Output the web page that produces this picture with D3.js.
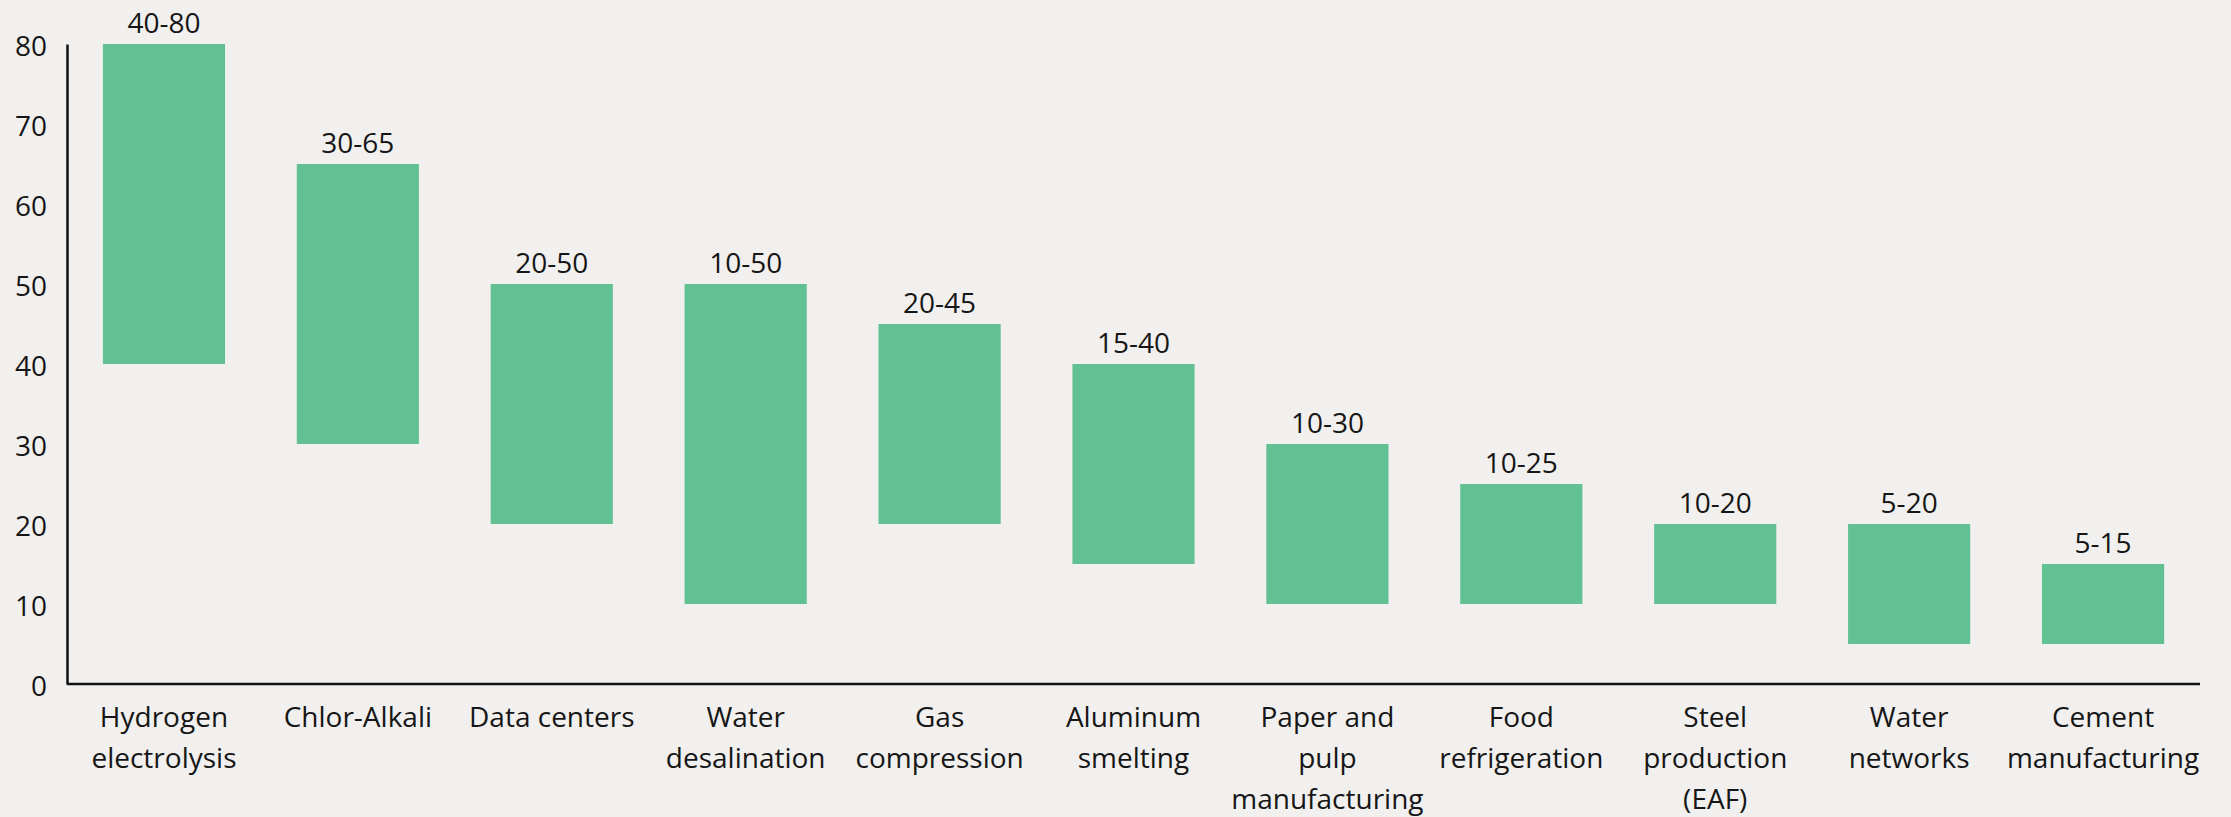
<!DOCTYPE html>
<html>
<head>
<meta charset="utf-8">
<script src="https://cdn.jsdelivr.net/npm/d3@7"></script>
<style>
  html, body { margin: 0; padding: 0; background: #f1f0ee; }
  svg { display: block; }
  text { font-family: "Open Sans", Lato, sans-serif; fill: #161616; }
</style>
</head>
<body>
<svg id="chart" width="2231" height="817"></svg>
<script>
// Range of values for each application (low end to high end)
const categories = [
  "Hydrogen\nelectrolysis",
  "Chlor-Alkali",
  "Data centers",
  "Water\ndesalination",
  "Gas\ncompression",
  "Aluminum\nsmelting",
  "Paper and\npulp\nmanufacturing",
  "Food\nrefrigeration",
  "Steel\nproduction\n(EAF)",
  "Water\nnetworks",
  "Cement\nmanufacturing"
];
const lows  = [40, 30, 20, 10, 20, 15, 10, 10, 10, 5, 5];
const highs = [80, 65, 50, 50, 45, 40, 30, 25, 20, 20, 15];
const yTicks = [0, 10, 20, 30, 40, 50, 60, 70, 80];

const rows = categories.map((c, i) => ({ cat: c, lo: lows[i], hi: highs[i] }));

const FONT = "'Open Sans', Lato, sans-serif";
const svg = d3.select("#chart");
const plotLeft = 67, plotRight = 2200, plotTop = 44, plotBottom = 684;

const x = d3.scaleBand()
  .domain(categories)
  .range([plotLeft, plotRight])
  .paddingInner(0.37)
  .paddingOuter(0.185);

const y = d3.scaleLinear().domain([0, 80]).range([plotBottom, plotTop]);

// Floating range bars
svg.append("g").selectAll("rect")
  .data(rows)
  .join("rect")
  .attr("x", d => x(d.cat))
  .attr("width", x.bandwidth())
  .attr("y", d => y(d.hi))
  .attr("height", d => y(d.lo) - y(d.hi))
  .attr("fill", "#61c192");

// Range labels above each bar
svg.append("g").selectAll("text")
  .data(rows)
  .join("text")
  .attr("x", d => x(d.cat) + x.bandwidth() / 2)
  .attr("y", d => y(d.hi) - 11)
  .attr("text-anchor", "middle")
  .attr("font-size", 28)
  .text(d => `${d.lo}-${d.hi}`);

// Y axis
const yAxis = svg.append("g")
  .attr("transform", `translate(${plotLeft},0)`)
  .call(d3.axisLeft(y).tickValues(yTicks).tickSize(0).tickPadding(20));
yAxis.select(".domain").attr("stroke", "#111").attr("stroke-width", 2.5);
yAxis.selectAll("text")
  .attr("font-size", 28)
  .attr("dy", "0.42em")
  .style("font-family", FONT)
  .attr("fill", "#161616");

// X axis with wrapped category names
const xAxis = svg.append("g")
  .attr("transform", `translate(0,${plotBottom})`)
  .call(d3.axisBottom(x).tickSize(0).tickPadding(0));
xAxis.select(".domain")
  .attr("d", `M${plotLeft},0H${plotRight}`)
  .attr("stroke", "#111").attr("stroke-width", 2.5);
xAxis.selectAll(".tick text").each(function(d) {
  const t = d3.select(this);
  t.text(null)
    .attr("y", 0)
    .attr("dy", null)
    .attr("font-size", 28)
    .style("font-family", FONT)
    .attr("fill", "#161616");
  d.split("\n").forEach((line, i) => {
    t.append("tspan")
      .attr("x", 0)
      .attr("y", 43 + i * 41)
      .text(line);
  });
});
</script>
</body>
</html>
